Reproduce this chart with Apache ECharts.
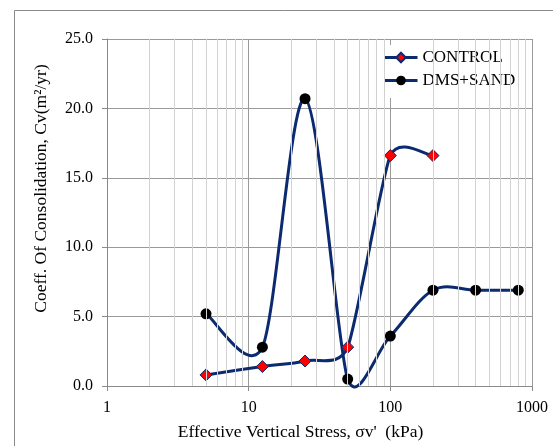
<!DOCTYPE html>
<html>
<head>
<meta charset="utf-8">
<script src="https://cdn.jsdelivr.net/npm/echarts@6/dist/echarts.min.js"></script>
<style>
  html, body { margin: 0; padding: 0; background: #fff; }
  #chart { width: 553px; height: 446px; }
</style>
</head>
<body>
<div id="chart"></div>
<script>
// effective vertical stress (kPa)
const stressControl = [5, 12.5, 25, 50, 100, 200]
const cvControl = [0.8, 1.4, 1.8, 2.8, 16.6, 16.6]
const stressDms = [5, 12.5, 25, 50, 100, 200, 400, 800]
const cvDms = [5.2, 2.8, 20.7, 0.5, 3.6, 6.9, 6.9, 6.9]
// minor vertical gridlines on the log axis
const minorX = [2, 3, 4, 5, 6, 7, 8, 9, 20, 30, 40, 50, 60, 70, 80, 90, 200, 300, 400, 500, 600, 700, 800, 900]

const NAVY = '#0b2a6f'
const SERIF = '"Liberation Serif", "Times New Roman", serif'

const pairs = (xs, ys) => xs.map((x, i) => [x, ys[i]])

// spreadsheet-style smoothed curve: each item draws the bezier segment to the next point,
// control points from neighbouring points (catmull-rom, tangent capped at half the segment)
function curveRenderer(xs, ys) {
  return function (params, api) {
    const i = params.dataIndex
    const n = xs.length
    if (i >= n - 1) return null
    const P = k => api.coord([xs[Math.max(0, Math.min(n - 1, k))], ys[Math.max(0, Math.min(n - 1, k))]])
    const dist = (a, b) => Math.hypot(a[0] - b[0], a[1] - b[1])
    const tangent = (k) => {
      const a = P(k - 1), b = P(k), c = P(k + 1)
      const L = dist(a, c)
      if (L === 0) return [0, 0]
      const d0 = dist(a, b) || Infinity
      const d1 = dist(b, c) || Infinity
      const f = Math.min(1 / 6, d0 / (2 * L), d1 / (2 * L))
      return [(c[0] - a[0]) * f, (c[1] - a[1]) * f]
    }
    const p1 = P(i), p2 = P(i + 1)
    const t1 = tangent(i), t2 = tangent(i + 1)
    return {
      type: 'bezierCurve',
      shape: {
        x1: p1[0], y1: p1[1],
        cpx1: p1[0] + t1[0], cpy1: p1[1] + t1[1],
        cpx2: p2[0] - t2[0], cpy2: p2[1] - t2[1],
        x2: p2[0], y2: p2[1],
      },
      style: { stroke: NAVY, lineWidth: 3, fill: null, lineCap: 'round' },
      silent: true,
    }
  }
}

const chart = echarts.init(document.getElementById('chart'))
chart.setOption({
  animation: false,
  textStyle: { fontFamily: SERIF },
  graphic: [{
    type: 'rect',
    shape: { x: 14.5, y: 10.5, width: 600, height: 500 },
    style: { fill: 'none', stroke: '#8a8a8a', lineWidth: 1 },
    silent: true,
    z: -10,
  }],
  grid: { left: 107, right: 21, top: 39, bottom: 58 },
  legend: {
    orient: 'vertical',
    left: 369,
    top: 45,
    padding: [4, 12, 9, 14],
    itemGap: 6,
    itemWidth: 33,
    itemHeight: 12,
    backgroundColor: '#fff',
    borderWidth: 0,
    lineStyle: { opacity: 1, width: 3, color: NAVY },
    textStyle: { fontFamily: SERIF, fontSize: 17, color: '#000' },
    data: ['CONTROL', 'DMS+SAND'],
  },
  xAxis: {
    type: 'log',
    logBase: 10,
    min: 1,
    max: 1000,
    name: "Effective Vertical Stress, σv'  (kPa)",
    nameLocation: 'middle',
    nameGap: 37,
    nameTextStyle: { fontFamily: SERIF, fontSize: 17.5, color: '#000', padding: [0, 38, 0, 0] },
    axisLine: { lineStyle: { color: '#8a8a8a' } },
    axisTick: { show: true, length: 5, lineStyle: { color: '#8a8a8a' } },
    axisLabel: { fontFamily: SERIF, fontSize: 16, color: '#000', margin: 14, formatter: v => String(v) },
    splitLine: { show: true, lineStyle: { color: '#9a9a9a', width: 1 } },
  },
  yAxis: {
    type: 'value',
    min: 0,
    max: 25,
    interval: 5,
    name: 'Coeff. Of Consolidation, Cv(m²/yr)',
    nameLocation: 'middle',
    nameGap: 57,
    nameTextStyle: { fontFamily: SERIF, fontSize: 17.5, color: '#000', padding: [0, 0, 0, 48] },
    axisLine: { show: true, lineStyle: { color: '#8a8a8a' } },
    axisTick: { show: true, length: 5, lineStyle: { color: '#8a8a8a' } },
    axisLabel: {
      fontFamily: SERIF, fontSize: 16, color: '#000', margin: 14,
      formatter: v => v.toFixed(1),
    },
    splitLine: { show: true, lineStyle: { color: '#9a9a9a', width: 1 } },
  },
  series: [
    {
      name: 'minor',
      type: 'line',
      data: [],
      z: 1,
      silent: true,
      markLine: {
        silent: true,
        symbol: 'none',
        label: { show: false },
        lineStyle: { color: '#d2d2d2', width: 1, type: 'solid' },
        data: minorX.map(v => ({ xAxis: v })),
      },
    },
    {
      name: 'controlCurve',
      type: 'custom',
      data: pairs(stressControl, cvControl),
      renderItem: curveRenderer(stressControl, cvControl),
      clip: false,
      z: 2,
    },
    {
      name: 'dmsCurve',
      type: 'custom',
      data: pairs(stressDms, cvDms),
      renderItem: curveRenderer(stressDms, cvDms),
      clip: false,
      z: 2,
    },
    {
      name: 'CONTROL',
      type: 'line',
      data: pairs(stressControl, cvControl),
      z: 3,
      symbol: 'diamond',
      symbolSize: 12,
      lineStyle: { color: NAVY, width: 3, opacity: 0 },
      itemStyle: { color: '#ff0000', borderColor: NAVY, borderWidth: 1 },
    },
    {
      name: 'DMS+SAND',
      type: 'line',
      data: pairs(stressDms, cvDms),
      z: 4,
      symbol: 'circle',
      symbolSize: 11,
      lineStyle: { color: NAVY, width: 3, opacity: 0 },
      itemStyle: { color: '#000000', borderWidth: 0 },
    },
  ],
})
</script>
</body>
</html>
